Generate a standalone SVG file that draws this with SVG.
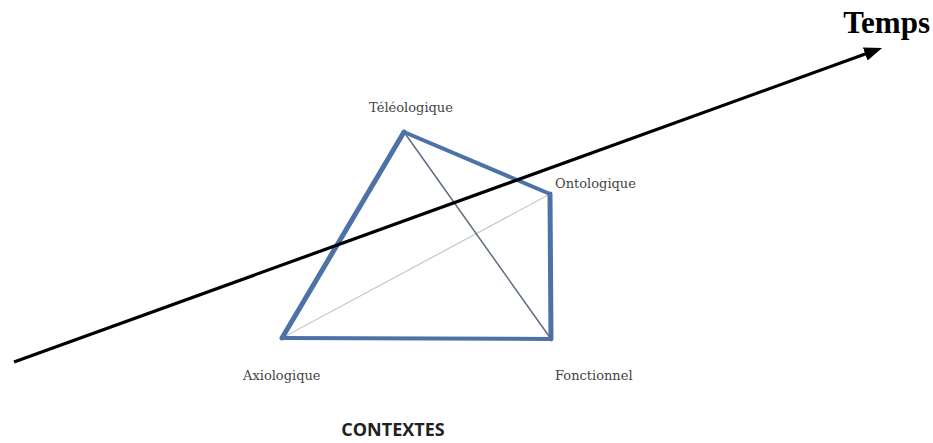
<svg xmlns="http://www.w3.org/2000/svg" width="933" height="443" viewBox="0 0 933 443">
<style>
.lbl{font-family:"DejaVu Serif","Liberation Serif",serif;font-size:13px;fill:#444}
.edge{stroke:#4d72a6;stroke-linecap:round;stroke-linejoin:round;fill:none}
</style>
<defs>
<marker id="ah" markerWidth="20" markerHeight="16" refX="3" refY="8" orient="auto" markerUnits="userSpaceOnUse">
<path d="M0,1 L18,8 L0,15 z" fill="#000"/>
</marker>
</defs>
<rect width="933" height="443" fill="#fff"/>
<g id="edges">
<line x1="282" y1="338" x2="550" y2="194" stroke="#c8c8c8" stroke-width="1.2"/>
<line x1="404" y1="132" x2="551" y2="339" stroke="#5d6a80" stroke-width="1.5"/>
<line class="edge" x1="282" y1="338" x2="404" y2="132" stroke-width="5"/>
<line class="edge" x1="404" y1="132" x2="550" y2="194" stroke-width="4"/>
<line class="edge" x1="550" y1="194" x2="551" y2="339" stroke-width="5"/>
<line class="edge" x1="282" y1="338" x2="551" y2="339" stroke-width="4"/>
</g>
<g id="connectors">
<line x1="14" y1="362" x2="868" y2="53" stroke="#000" stroke-width="3.2" marker-end="url(#ah)"/>
</g>
<g id="n-teleo"><text class="lbl" x="411" y="112" text-anchor="middle">Téléologique</text></g>
<g id="n-onto"><text class="lbl" x="555" y="188">Ontologique</text></g>
<g id="n-axio"><text class="lbl" x="243" y="380">Axiologique</text></g>
<g id="n-fonct"><text class="lbl" x="555" y="380">Fonctionnel</text></g>
<g id="n-temps"><text x="930" y="33" text-anchor="end" font-family="Liberation Serif,serif" font-weight="bold" font-size="31" fill="#000">Temps</text></g>
<g id="n-contextes"><text x="393" y="436" text-anchor="middle" font-family="Open Sans,sans-serif" font-weight="bold" font-size="18" fill="#222">CONTEXTES</text></g>
</svg>
